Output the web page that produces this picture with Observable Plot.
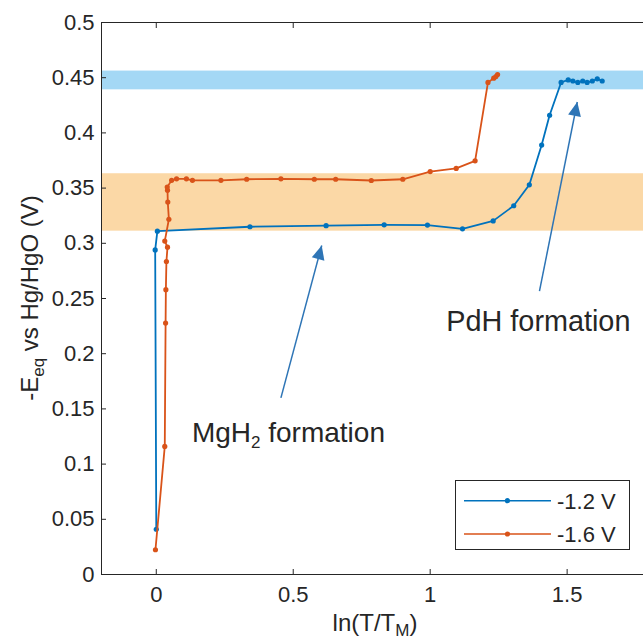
<!DOCTYPE html>
<html><head><meta charset="utf-8">
<script src="https://cdn.jsdelivr.net/npm/d3@7"></script>
<script src="https://cdn.jsdelivr.net/npm/@observablehq/plot@0.6"></script>
<style>
body{margin:0;background:#fff;overflow:hidden}
svg{font-family:"Liberation Sans",Arial,Helvetica,sans-serif}
</style>
</head><body><div id="chart"></div>
<script>
// ---- data ----
const seriesNames = ["-1.2 V", "-1.6 V"];
const seriesColors = ["#0072BD", "#D95319"];

const x12 = [0.000, -0.004, 0.004, 0.342, 0.620, 0.832, 0.990, 1.118, 1.230, 1.305, 1.362, 1.407, 1.436, 1.478, 1.504, 1.521, 1.539, 1.557, 1.573, 1.592, 1.610, 1.628];
const y12 = [0.041, 0.294, 0.311, 0.315, 0.316, 0.3167, 0.3165, 0.3131, 0.3203, 0.334, 0.353, 0.389, 0.416, 0.4457, 0.448, 0.447, 0.4457, 0.447, 0.4457, 0.447, 0.449, 0.447];

const x16 = [-0.003, 0.031, 0.034, 0.035, 0.037, 0.041, 0.031, 0.046, 0.042, 0.041, 0.040, 0.056, 0.074, 0.110, 0.132, 0.236, 0.330, 0.455, 0.577, 0.655, 0.785, 0.900, 1.000, 1.095, 1.164, 1.211, 1.232, 1.240, 1.246];
const y16 = [0.0224, 0.116, 0.2277, 0.258, 0.2835, 0.2965, 0.302, 0.3218, 0.3373, 0.348, 0.351, 0.357, 0.3584, 0.3584, 0.357, 0.357, 0.358, 0.3584, 0.358, 0.358, 0.3569, 0.358, 0.365, 0.3678, 0.3747, 0.4457, 0.4496, 0.451, 0.4529];

const bandLow = [0.439, 0.311];
const bandHigh = [0.456, 0.363];
const bandColors = ["#a4d8f5", "#fbd8a6"];

const arrowX1 = [0.455, 1.399];
const arrowY1 = [0.160, 0.2566];
const arrowX2 = [0.604, 1.537];
const arrowY2 = [0.298, 0.428];
const arrowColor = "#2E75B6";

const annotText = ["MgH2 formation", "PdH formation"];
const annotX = [0.130, 1.059];
const annotY = [0.1196, 0.221];
const annotSize = [28, 28.8];

const xTicks = [0, 0.5, 1, 1.5];
const yTicks = [0, 0.05, 0.1, 0.15, 0.2, 0.25, 0.3, 0.35, 0.4, 0.45, 0.5];
const xDomain = [-0.2, 1.8];
const yDomain = [0, 0.5];

// ---- tables ----
const rows12 = x12.map((x, i) => ({x, y: y12[i]}));
const rows16 = x16.map((x, i) => ({x, y: y16[i]}));
const bands = bandLow.map((lo, i) => ({lo, hi: bandHigh[i], c: bandColors[i]}));
const arrows = arrowX1.map((x1, i) => ({x1, y1: arrowY1[i], x2: arrowX2[i], y2: arrowY2[i]}));
const annots = annotText.map((t, i) => ({t, x: annotX[i], y: annotY[i], s: annotSize[i]}));
const fmt = d => String(+d.toFixed(2));
const ink = "#262626";

const plot = Plot.plot({
  width: 643, height: 641,
  marginLeft: 101, marginTop: 22, marginBottom: 67, marginRight: 0,
  style: {color: ink, background: "#fff", overflow: "hidden"},
  x: {domain: xDomain, range: [101, 648.8], axis: null, label: null},
  y: {domain: yDomain, axis: null, label: null},
  marks: [
    ...bands.map(b => Plot.rect([b], {y1: "lo", y2: "hi", fill: b.c})),
    Plot.line(rows12, {x: "x", y: "y", stroke: seriesColors[0], strokeWidth: 1.8}),
    Plot.dot(rows12, {x: "x", y: "y", fill: seriesColors[0], r: 2.6}),
    Plot.line(rows16, {x: "x", y: "y", stroke: seriesColors[1], strokeWidth: 1.8}),
    Plot.dot(rows16, {x: "x", y: "y", fill: seriesColors[1], r: 2.6}),
    Plot.link(arrows, {x1: "x1", y1: "y1", x2: "x2", y2: "y2", stroke: arrowColor, strokeWidth: 1.5}),
    ...annots.map(a => Plot.text([a], {x: "x", y: "y", text: "t", textAnchor: "start", lineAnchor: "bottom", fontSize: a.s, fill: ink})),
    Plot.frame({stroke: ink, strokeWidth: 1}),
    Plot.axisY(yTicks, {anchor: "left", tickSize: 0, tickPadding: 7, fontSize: 22, tickFormat: fmt, label: null}),
    Plot.axisY(yTicks, {anchor: "left", tickSize: 5, dx: 5, tickFormat: () => "", label: null}),
    Plot.axisX(xTicks, {anchor: "bottom", tickSize: 0, tickPadding: 12, fontSize: 22, tickFormat: fmt, label: null}),
    Plot.axisX(xTicks, {anchor: "bottom", tickSize: 5, dy: -5, tickFormat: () => "", label: null}),
    Plot.axisX(xTicks, {anchor: "top", tickSize: 5, dy: 5, tickFormat: () => "", label: null})
  ]
});
document.getElementById("chart").appendChild(plot);

// ---- post-processing: arrowheads, subscripts, labels, legend ----
const svg = d3.select(plot);
const defs = svg.append("defs");
defs.append("marker").attr("id", "ahead")
  .attr("markerUnits", "userSpaceOnUse").attr("orient", "auto")
  .attr("markerWidth", 16).attr("markerHeight", 16)
  .attr("viewBox", "-15 -8 16 16").attr("refX", 0).attr("refY", 0)
  .append("path").attr("d", "M0,0 L-14,-6.5 L-14,6.5 Z").attr("fill", arrowColor);
svg.selectAll("g[aria-label='link'] path").attr("marker-end", "url(#ahead)");

svg.selectAll("g[aria-label='text'] text").each(function() {
  const el = d3.select(this);
  const t = el.text();
  if (t.startsWith("MgH2")) {
    el.text("");
    el.append("tspan").text("MgH");
    el.append("tspan").attr("font-size", 17).attr("dy", 6).text("2");
    el.append("tspan").attr("dy", -6).text(" formation");
  }
});

const sy = plot.scale("y");
const midX = (101 + 643) / 2 + 3;
const midY = (sy.apply(yDomain[0]) + sy.apply(yDomain[1])) / 2;

const yl = svg.append("text").attr("transform", `translate(38,${midY}) rotate(-90)`)
  .attr("text-anchor", "middle").attr("font-size", 24).attr("fill", ink);
yl.append("tspan").text("-E");
yl.append("tspan").attr("font-size", 17).attr("dy", 6).text("eq");
yl.append("tspan").attr("dy", -6).text(" vs Hg/HgO (V)");

const xl = svg.append("text").attr("x", midX).attr("y", 631)
  .attr("text-anchor", "middle").attr("font-size", 24).attr("fill", ink);
xl.append("tspan").text("ln(T/T");
xl.append("tspan").attr("font-size", 17).attr("dy", 5).text("M");
xl.append("tspan").attr("dy", -5).text(")");

const lg = svg.append("g");
lg.append("rect").attr("x", 455.5).attr("y", 480.5).attr("width", 174).attr("height", 69)
  .attr("fill", "#fff").attr("stroke", ink).attr("stroke-width", 1);
seriesNames.forEach((name, i) => {
  const yy = 500.7 + i * 33.3;
  lg.append("line").attr("x1", 464).attr("x2", 551).attr("y1", yy).attr("y2", yy)
    .attr("stroke", seriesColors[i]).attr("stroke-width", 1.5);
  lg.append("circle").attr("cx", 507.5).attr("cy", yy).attr("r", 2.6).attr("fill", seriesColors[i]);
  lg.append("text").attr("x", 557).attr("y", yy).attr("dy", "0.36em").attr("text-anchor", "start")
    .attr("font-size", 22).attr("fill", ink).text(name);
});
</script>
</body></html>
